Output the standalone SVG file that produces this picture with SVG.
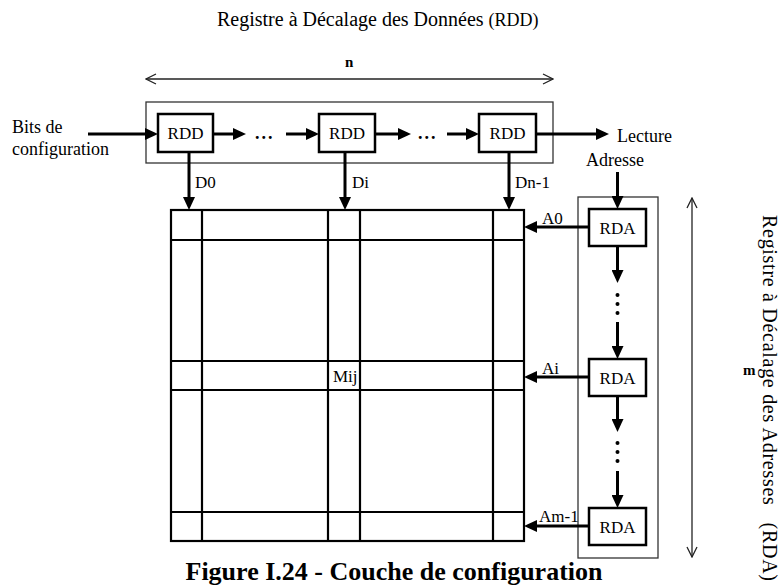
<svg xmlns="http://www.w3.org/2000/svg" width="781" height="586" viewBox="0 0 781 586">
<style>
text{font-family:"Liberation Serif","Times New Roman",serif;fill:#000}
.t{font-size:18px}
.l{font-size:17px}
.bt{font-size:17px;text-anchor:middle}
.box{fill:#fff;stroke:#000;stroke-width:2.5}
.frame{fill:none;stroke:#333;stroke-width:1.3}
.grid{fill:none;stroke:#000;stroke-width:2.2}
.c{fill:none;stroke:#000;stroke-width:3;marker-end:url(#ah)}
.dim{fill:none;stroke:#222;stroke-width:1.3;marker-start:url(#open);marker-end:url(#open)}
.dots{font-size:18px;font-weight:bold;letter-spacing:2px}
</style>
<defs>
<marker id="ah" viewBox="0 0 13 12" refX="5" refY="6" markerWidth="13" markerHeight="12" markerUnits="userSpaceOnUse" orient="auto"><path d="M0,0 L13,6 L0,12 z" fill="#000"/></marker>
<marker id="open" viewBox="0 0 12 12" refX="11" refY="6" markerWidth="12" markerHeight="12" markerUnits="userSpaceOnUse" orient="auto-start-reverse"><path d="M1,1 L11,6 L1,11" fill="none" stroke="#222" stroke-width="1.3"/></marker>
</defs>

<text x="217" y="26" style="font-size:20px">Registre à Décalage des Données <tspan style="font-size:18px">(RDD)</tspan></text>
<g id="dim-n">
<line class="dim" x1="146" y1="79" x2="553" y2="79"/>
<text x="345" y="67" style="font-size:15px;font-weight:bold">n</text>
</g>
<g id="dim-m">
<line class="dim" x1="692" y1="198" x2="692" y2="557"/>
<text x="743" y="375" style="font-size:15px;font-weight:bold">m</text>
</g>
<text transform="translate(763,215) rotate(90)" style="font-size:20px" textLength="366" lengthAdjust="spacing" xml:space="preserve">Registre à Décalage des Adresses   (RDA)</text>

<g id="rdd-frame"><rect class="frame" x="146" y="102" width="407" height="61"/></g>
<g id="rda-frame"><rect class="frame" x="578" y="197" width="80" height="361"/></g>

<text class="t" x="12" y="133">Bits de</text>
<text class="t" x="12" y="155">configuration</text>
<text class="t" x="617" y="142">Lecture</text>
<text class="t" x="586" y="166">Adresse</text>

<g id="rdd1"><rect class="box" x="158" y="114" width="55" height="38"/><text class="bt" x="185.5" y="139">RDD</text></g>
<g id="rdd2"><rect class="box" x="319" y="114" width="56" height="38"/><text class="bt" x="347" y="139">RDD</text></g>
<g id="rdd3"><rect class="box" x="479" y="114" width="57" height="38"/><text class="bt" x="507.5" y="139">RDD</text></g>

<text class="dots" x="255" y="139">...</text>
<text class="dots" x="418" y="139">...</text>

<g id="rda1"><rect class="box" x="589" y="209" width="57" height="37"/><text class="bt" x="617.5" y="234">RDA</text></g>
<g id="rda2"><rect class="box" x="589" y="359" width="57" height="37"/><text class="bt" x="617.5" y="384">RDA</text></g>
<g id="rda3"><rect class="box" x="589" y="508" width="57" height="37"/><text class="bt" x="617.5" y="533">RDA</text></g>

<g id="vdots" fill="#000">
<circle cx="617.5" cy="295" r="2"/><circle cx="617.5" cy="304" r="2"/><circle cx="617.5" cy="313" r="2"/>
<circle cx="617.5" cy="443" r="2"/><circle cx="617.5" cy="452" r="2"/><circle cx="617.5" cy="461" r="2"/>
</g>

<g id="matrix">
<rect class="grid" x="171" y="210" width="353" height="331"/>
<path class="grid" d="M202,210V541M328,210V541M360,210V541M493,210V541M171,240H524M171,361H524M171,390H524M171,512H524"/>
<text class="l" x="333" y="382">Mij</text>
</g>

<g id="connectors">
<line class="c" x1="88" y1="134" x2="150" y2="134"/>
<line class="c" x1="213" y1="134" x2="238" y2="134"/>
<line class="c" x1="286" y1="134" x2="311" y2="134"/>
<line class="c" x1="375" y1="134" x2="403" y2="134"/>
<line class="c" x1="447" y1="134" x2="471" y2="134"/>
<line class="c" x1="536" y1="134" x2="601" y2="134"/>
<line class="c" x1="189" y1="152" x2="189" y2="202"/>
<line class="c" x1="345" y1="152" x2="345" y2="202"/>
<line class="c" x1="509" y1="152" x2="509" y2="202"/>
<line class="c" x1="617.5" y1="172" x2="617.5" y2="201"/>
<line class="c" x1="617.5" y1="246" x2="617.5" y2="275"/>
<line class="c" x1="617.5" y1="322" x2="617.5" y2="351"/>
<line class="c" x1="617.5" y1="396" x2="617.5" y2="424"/>
<line class="c" x1="617.5" y1="471" x2="617.5" y2="500"/>
<line class="c" x1="589" y1="227" x2="532" y2="227"/>
<line class="c" x1="589" y1="377" x2="532" y2="377"/>
<line class="c" x1="589" y1="526" x2="532" y2="526"/>
</g>
<text class="l" x="195" y="188">D0</text>
<text class="l" x="352" y="188">Di</text>
<text class="l" x="515" y="188">Dn-1</text>
<text class="l" x="542" y="224">A0</text>
<text class="l" x="542" y="374">Ai</text>
<text class="l" x="539" y="522">Am-1</text>

<text x="394" y="580" style="font-size:26px;font-weight:bold;text-anchor:middle">Figure I.24 - Couche de configuration</text>
</svg>
